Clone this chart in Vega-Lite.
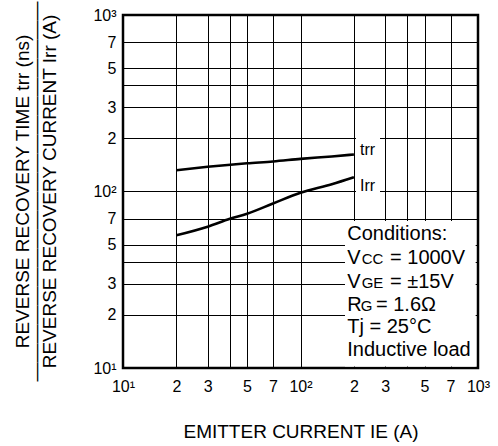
{
  "$schema": "https://vega.github.io/schema/vega-lite/v6.json",
  "width": 355,
  "height": 353,
  "autosize": {"type": "none"},
  "padding": {"left": 123, "top": 15, "right": 20, "bottom": 78},
  "background": "white",
  "config": {
    "view": {"stroke": "black", "strokeWidth": 2.5},
    "font": "Liberation Sans"
  },
  "datasets": {
    "masks": [
      {"x": 178.1, "x2": 970, "y": 10.2, "y2": 68.1},
      {"x": 205.4, "x2": 280.5, "y": 154.8, "y2": 206.3},
      {"x": 205.4, "x2": 280.5, "y": 97.4, "y2": 127.3}
    ],
    "curves": [
      {"series": "trr", "x": 20, "y": 132},
      {"series": "trr", "x": 30, "y": 138},
      {"series": "trr", "x": 50, "y": 144.5},
      {"series": "trr", "x": 70, "y": 148},
      {"series": "trr", "x": 100, "y": 153},
      {"series": "trr", "x": 150, "y": 158},
      {"series": "trr", "x": 200, "y": 162},
      {"series": "Irr", "x": 20, "y": 56.5},
      {"series": "Irr", "x": 30, "y": 63.2},
      {"series": "Irr", "x": 40, "y": 70},
      {"series": "Irr", "x": 50, "y": 74.8},
      {"series": "Irr", "x": 70, "y": 85.5},
      {"series": "Irr", "x": 100, "y": 98.4},
      {"series": "Irr", "x": 150, "y": 110},
      {"series": "Irr", "x": 200, "y": 120.5}
    ],
    "curveLabels": [
      {"label": "trr", "x": 216.3, "y": 161},
      {"label": "Irr", "x": 216.3, "y": 101}
    ],
    "condBig": [
      {"label": "Conditions:", "x": 183.5, "y": 52.78},
      {"label": "V", "x": 183.5, "y": 38.59},
      {"label": "= 1000V", "x": 319.4, "y": 38.59},
      {"label": "V", "x": 183.5, "y": 28.58},
      {"label": "= ±15V", "x": 319.4, "y": 28.58},
      {"label": "R", "x": 183.5, "y": 21.17},
      {"label": "= 1.6Ω", "x": 266.3, "y": 21.17},
      {"label": "Tj = 25°C", "x": 183.5, "y": 15.69},
      {"label": "Inductive load", "x": 183.5, "y": 11.62}
    ],
    "condSmall": [
      {"label": "CC", "x": 221.2, "y": 38.59},
      {"label": "GE", "x": 221.2, "y": 28.58},
      {"label": "G", "x": 218.4, "y": 21.17}
    ]
  },
  "encoding": {
    "x": {
      "field": "x",
      "type": "quantitative",
      "scale": {"type": "log", "domain": [10, 1000], "nice": false},
      "axis": {
        "values": [10, 20, 30, 40, 50, 70, 100, 200, 300, 400, 500, 700, 1000],
        "grid": true,
        "gridColor": "black",
        "gridWidth": 1,
        "gridOpacity": 1,
        "ticks": false,
        "domain": false,
        "labelExpr": "datum.value == 10 ? '10¹' : datum.value == 100 ? '10²' : datum.value == 1000 ? '10³' : (datum.value == 40 || datum.value == 400) ? '' : substring(toString(datum.value), 0, 1)",
        "labelFont": "Liberation Sans",
        "labelFontSize": 16,
        "labelColor": "black",
        "labelPadding": 10,
        "labelFlush": false,
        "labelOverlap": false,
        "title": "EMITTER CURRENT  IE (A)",
        "titleFont": "Liberation Sans",
        "titleFontSize": 19,
        "titleFontWeight": "normal",
        "titleColor": "black",
        "titleX": 177.5,
        "titleY": 69,
        "titleAlign": "center",
        "titleBaseline": "alphabetic"
      }
    },
    "y": {
      "field": "y",
      "type": "quantitative",
      "scale": {"type": "log", "domain": [10, 1000], "nice": false},
      "axis": {
        "values": [10, 20, 30, 40, 50, 70, 100, 200, 300, 400, 500, 700, 1000],
        "grid": true,
        "gridColor": "black",
        "gridWidth": 1,
        "gridOpacity": 1,
        "ticks": false,
        "domain": false,
        "labelExpr": "datum.value == 10 ? '10¹' : datum.value == 100 ? '10²' : datum.value == 1000 ? '10³' : (datum.value == 40 || datum.value == 400) ? '' : substring(toString(datum.value), 0, 1)",
        "labelFont": "Liberation Sans",
        "labelFontSize": 16,
        "labelColor": "black",
        "labelPadding": 7,
        "labelFlush": false,
        "labelOverlap": false,
        "labelBaseline": "middle",
        "title": ["REVERSE RECOVERY TIME  trr (ns)", "————————————————————", "REVERSE RECOVERY CURRENT  Irr (A)"],
        "titleFont": "Liberation Sans",
        "titleFontSize": 19,
        "titleFontWeight": "normal",
        "titleColor": "black",
        "titleAngle": -90,
        "titleX": -94.5,
        "titleY": 176,
        "titleAlign": "center",
        "titleBaseline": "alphabetic",
        "titleLineHeight": 13.35
      }
    }
  },
  "layer": [
    {
      "data": {"name": "masks"},
      "mark": {"type": "rect", "fill": "white", "strokeWidth": 0},
      "encoding": {
        "x2": {"field": "x2"},
        "y2": {"field": "y2"}
      }
    },
    {
      "data": {"name": "curves"},
      "mark": {"type": "line", "color": "black", "strokeWidth": 2.6, "interpolate": "monotone"},
      "encoding": {
        "detail": {"field": "series", "type": "nominal"}
      }
    },
    {
      "data": {"name": "curveLabels"},
      "mark": {"type": "text", "align": "left", "baseline": "alphabetic", "font": "Liberation Sans", "fontSize": 16, "color": "black"},
      "encoding": {"text": {"field": "label", "type": "nominal"}}
    },
    {
      "data": {"name": "condBig"},
      "mark": {"type": "text", "align": "left", "baseline": "alphabetic", "font": "Liberation Sans", "fontSize": 20, "color": "black"},
      "encoding": {"text": {"field": "label", "type": "nominal"}}
    },
    {
      "data": {"name": "condSmall"},
      "mark": {"type": "text", "align": "left", "baseline": "alphabetic", "font": "Liberation Sans", "fontSize": 15, "color": "black"},
      "encoding": {"text": {"field": "label", "type": "nominal"}}
    }
  ]
}
